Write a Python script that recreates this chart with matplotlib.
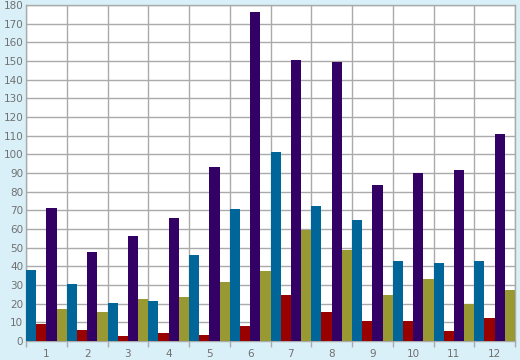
import numpy as np
from matplotlib import pyplot as plt
from matplotlib.ticker import MultipleLocator, FixedLocator

groups = [str(i) for i in range(1, 13)]
blue = [38.3, 30.3, 20.1, 21.2, 46.3, 70.9, 101.0, 72.5, 65.0, 42.6, 42.0, 42.6]
red = [8.9, 5.7, 2.5, 4.1, 3.0, 7.8, 24.4, 15.3, 10.5, 10.5, 5.2, 12.1]
purple = [71.5, 47.9, 56.0, 66.1, 93.0, 176.3, 150.3, 149.2, 83.8, 89.8, 91.4, 110.7]
olive = [16.9, 15.3, 22.3, 23.4, 31.4, 37.3, 59.2, 48.5, 24.4, 33.0, 19.6, 27.1]

series = [blue, red, purple, olive]
colors = ["#006699", "#990000", "#330066", "#999933"]

BG = "#d9f0f8"
GRID = "#aaaaaa"
TXT = "#707070"

fig = plt.figure(figsize=(5.2, 3.6), dpi=100, facecolor=BG)
ax = fig.add_axes([26 / 520, 19 / 360, 489 / 520, 336 / 360])
ax.set_facecolor("white")

x = np.arange(len(groups))
w = 0.25
for k, (vals, c) in enumerate(zip(series, colors)):
    ax.bar(x + k * w, vals, width=w, align="edge", color=c, linewidth=0, zorder=3)

ax.set_xlim(0, len(groups))
ax.set_ylim(0, 180)

ax.yaxis.set_major_locator(MultipleLocator(10))
ax.xaxis.set_major_locator(FixedLocator(x + 0.5))
ax.set_xticklabels(groups)
ax.xaxis.set_minor_locator(FixedLocator(np.arange(0, len(groups) + 1)))

ax.grid(True, which="major", axis="y", color=GRID, linewidth=1, zorder=0)
ax.grid(True, which="minor", axis="x", color=GRID, linewidth=1, zorder=0)

ax.tick_params(axis="x", which="major", length=0, pad=6, labelsize=7.5, labelcolor=TXT)
ax.tick_params(axis="x", which="minor", length=4, color=GRID, width=1)
ax.tick_params(axis="y", which="major", length=0, pad=2, labelsize=7.5, labelcolor=TXT)

for s in ax.spines.values():
    s.set_color(GRID)
    s.set_linewidth(1)

fig.savefig("out.png", dpi=100, facecolor=BG)
